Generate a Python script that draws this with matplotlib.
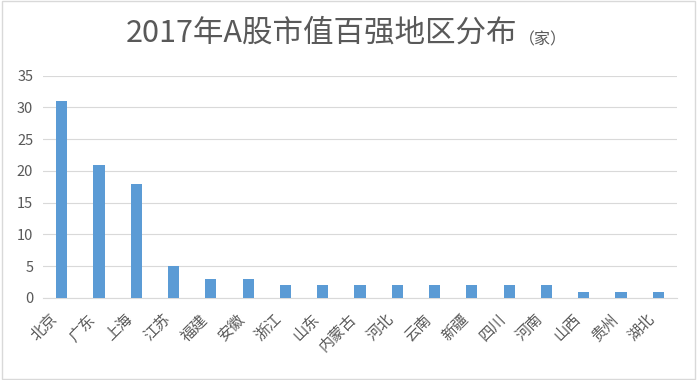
import matplotlib.pyplot as plt
import numpy as np

plt.rcParams['font.family'] = ['Noto Sans CJK SC', 'DejaVu Sans']

regions = ["北京", "广东", "上海", "江苏", "福建", "安徽", "浙江", "山东", "内蒙古",
           "河北", "云南", "新疆", "四川", "河南", "山西", "贵州", "湖北"]
counts = [31, 21, 18, 5, 3, 3, 2, 2, 2, 2, 2, 2, 2, 2, 1, 1, 1]

fig = plt.figure(figsize=(6.97, 3.80), dpi=100)
ax = fig.add_axes([0.0617, 0.216, 0.9096, 0.585])

x = np.arange(len(regions))
ax.bar(x, counts, width=0.3, color="#5B9BD5", zorder=3)

ax.set_xlim(-0.5, len(regions) - 0.5)
ax.set_ylim(0, 35)
ax.set_yticks(range(0, 36, 5))
ax.grid(axis="y", color="#D9D9D9", linewidth=0.8, zorder=0)
ax.set_xticks(x)
ax.set_xticklabels(regions, rotation=45, ha="right", va="bottom", rotation_mode="anchor",
                   fontsize=11, color="#595959")
ax.tick_params(axis="y", labelsize=10.5, labelcolor="#595959", length=0, pad=7)
ax.tick_params(axis="x", length=0, pad=18)
for s in ["top", "right", "left"]:
    ax.spines[s].set_visible(False)
ax.spines["bottom"].set_color("#D9D9D9")

fig.text(0.742, 0.912, "2017年A股市值百强地区分布", fontsize=22, color="#595959",
         ha="right", va="center")
fig.text(0.744, 0.895, "（家）", fontsize=11.5, color="#595959", ha="left", va="center")

# outer border
fig.patches.append(plt.Rectangle((0.003, 0.003), 0.994, 0.994, transform=fig.transFigure,
                                 fill=False, edgecolor="#D9D9D9", linewidth=1))

fig.savefig("out.png", dpi=100)
